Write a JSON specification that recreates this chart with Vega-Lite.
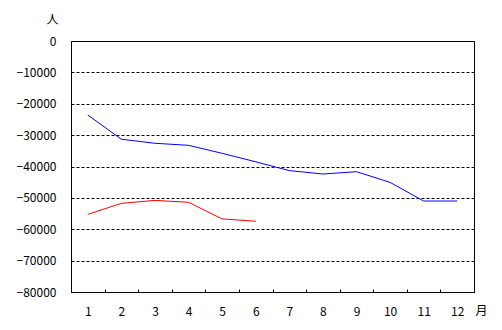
{
  "$schema": "https://vega.github.io/schema/vega-lite/v6.json",
  "width": 403,
  "height": 251,
  "autosize": "none",
  "padding": {"left": 71, "top": 41, "right": 28, "bottom": 38},
  "background": "white",
  "config": {
    "view": {"stroke": "black", "strokeWidth": 1},
    "font": "Noto Sans CJK JP"
  },
  "data": {
    "values": [
      {"month": "1", "value": -23600, "series": "A"},
      {"month": "2", "value": -31300, "series": "A"},
      {"month": "3", "value": -32600, "series": "A"},
      {"month": "4", "value": -33250, "series": "A"},
      {"month": "5", "value": -35800, "series": "A"},
      {"month": "6", "value": -38500, "series": "A"},
      {"month": "7", "value": -41300, "series": "A"},
      {"month": "8", "value": -42400, "series": "A"},
      {"month": "9", "value": -41650, "series": "A"},
      {"month": "10", "value": -45050, "series": "A"},
      {"month": "11", "value": -51000, "series": "A"},
      {"month": "12", "value": -51000, "series": "A"},
      {"month": "1", "value": -55250, "series": "B"},
      {"month": "2", "value": -51750, "series": "B"},
      {"month": "3", "value": -50800, "series": "B"},
      {"month": "4", "value": -51400, "series": "B"},
      {"month": "5", "value": -56700, "series": "B"},
      {"month": "6", "value": -57450, "series": "B"}
    ]
  },
  "mark": {"type": "line", "strokeWidth": 1},
  "encoding": {
    "x": {
      "field": "month",
      "type": "ordinal",
      "sort": ["1","2","3","4","5","6","7","8","9","10","11","12"],
      "scale": {"paddingInner": 0, "paddingOuter": 0, "type": "band"},
      "axis": {
        "title": "月",
        "titleAngle": 0,
        "titleX": 410,
        "titleY": 13,
        "titleFontSize": 12,
        "titleFontWeight": "normal",
        "titleColor": "black",
        "labelAngle": 0,
        "labelFontSize": 12,
        "labelColor": "black",
        "labelPadding": 17,
        "tickBand": "extent",
        "tickSize": -3,
        "tickColor": "black",
        "domainColor": "black",
        "grid": false
      }
    },
    "y": {
      "field": "value",
      "type": "quantitative",
      "scale": {"domain": [-80000, 0], "nice": false},
      "axis": {
        "title": "人",
        "titleAngle": 0,
        "titleX": -19,
        "titleY": -15,
        "titleAlign": "center",
        "titleFontSize": 12,
        "titleFontWeight": "normal",
        "titleColor": "black",
        "values": [0, -10000, -20000, -30000, -40000, -50000, -60000, -70000, -80000],
        "format": "d",
        "labelFontSize": 12,
        "labelColor": "black",
        "labelPadding": 15,
        "ticks": false,
        "domainColor": "black",
        "grid": true,
        "gridColor": "black",
        "gridDash": [3, 2],
        "gridWidth": 1
      }
    },
    "color": {
      "field": "series",
      "type": "nominal",
      "scale": {"domain": ["A", "B"], "range": ["#0000FF", "#FF0000"]},
      "legend": null
    }
  }
}
